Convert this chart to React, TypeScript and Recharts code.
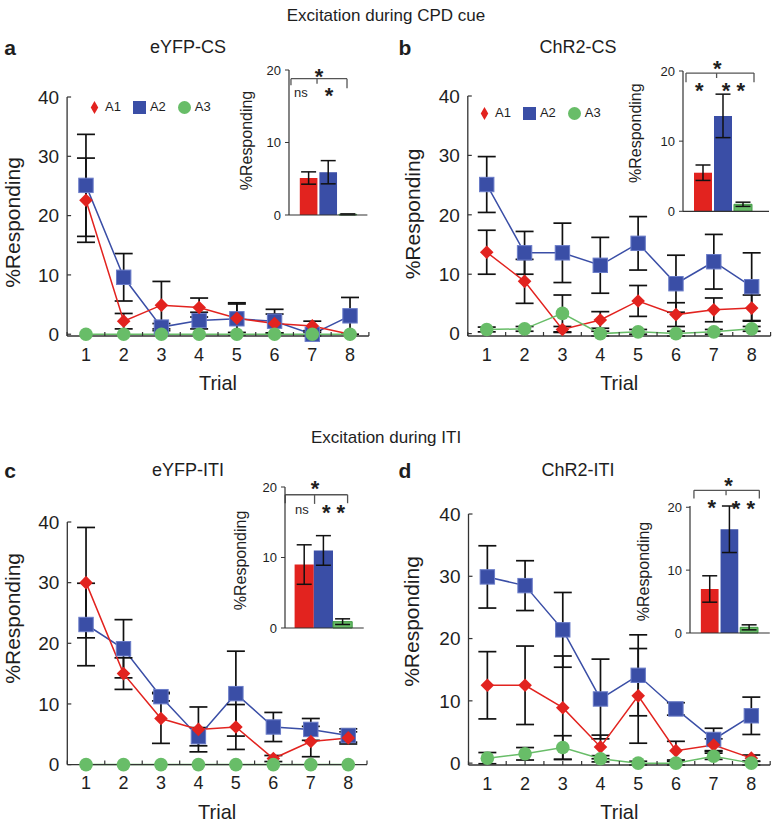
import React from 'react';
import {
  LineChart, Line, XAxis, YAxis, ErrorBar, BarChart, Bar, Cell,
  ReferenceLine, ReferenceDot, Legend,
} from 'recharts';

// ---------- shared categories / ticks ----------
const trials = [1, 2, 3, 4, 5, 6, 7, 8];
const xTicks = [0.5, 1, 1.5, 2, 2.5, 3, 3.5, 4, 4.5, 5, 5.5, 6, 6.5, 7, 7.5, 8, 8.5];
const yTicks = [0, 10, 20, 30, 40];
const insetTicks = [0, 10, 20];
const seriesNames = ['A1', 'A2', 'A3'];

// ---------- panel a: eYFP-CS ----------
const aA1 = [22.6, 2.2, 4.9, 4.5, 2.7, 1.8, 1.4, 0.0];
const aA1Err = [7.1, 1.3, 4.0, 1.6, 2.4, 1.6, 0.8, 0.0];
const aA2 = [25.1, 9.6, 1.2, 2.3, 2.6, 2.2, 0.0, 3.1];
const aA2Err = [8.6, 4.0, 0.6, 1.4, 2.7, 2.0, 0.3, 3.1];
const aA3 = [0, 0, 0, 0, 0, 0, 0, 0];
const aA3Err = [0, 0, 0, 0, 0, 0, 0, 0];
const aBar = [5.1, 5.9, 0.1];
const aBarErr = [0.85, 1.6, 0.05];

// ---------- panel b: ChR2-CS ----------
const bA1 = [13.7, 8.8, 0.7, 2.3, 5.5, 3.2, 4.0, 4.3];
const bA1Err = [3.7, 3.7, 0.5, 1.4, 2.6, 2.0, 2.0, 2.2];
const bA2 = [25.1, 13.6, 13.6, 11.5, 15.2, 8.4, 12.1, 7.9];
const bA2Err = [4.7, 3.6, 5.0, 4.7, 4.5, 4.8, 4.6, 5.7];
const bA3 = [0.7, 0.8, 3.4, 0.0, 0.3, 0.0, 0.3, 0.8];
const bA3Err = [0.4, 0.4, 3.1, 0.4, 0.4, 0.4, 0.4, 0.4];
const bBar = [5.5, 13.6, 1.0];
const bBarErr = [1.1, 3.1, 0.3];

// ---------- panel c: eYFP-ITI ----------
const cA1 = [30.0, 15.0, 7.6, 5.8, 6.2, 1.0, 3.8, 4.4];
const cA1Err = [9.1, 2.6, 4.1, 3.7, 3.7, 0.5, 2.5, 1.0];
const cA2 = [23.1, 19.1, 11.2, 4.6, 11.7, 6.2, 5.8, 4.8];
const cA2Err = [6.8, 4.8, 0.7, 1.5, 7.0, 2.4, 1.8, 1.1];
const cA3 = [0, 0, 0, 0, 0, 0, 0, 0];
const cA3Err = [0, 0, 0, 0, 0, 0, 0, 0];
const cBar = [9.0, 11.0, 0.9];
const cBarErr = [2.8, 2.1, 0.4];

// ---------- panel d: ChR2-ITI ----------
const dA1 = [12.5, 12.5, 8.9, 2.6, 10.8, 2.0, 2.9, 0.8];
const dA1Err = [5.4, 6.3, 8.3, 1.9, 7.6, 1.5, 1.0, 0.5];
const dA2 = [29.9, 28.5, 21.4, 10.3, 14.1, 8.7, 3.8, 7.6];
const dA2Err = [5.0, 4.0, 6.0, 6.4, 6.5, 1.0, 1.8, 3.0];
const dA3 = [0.8, 1.5, 2.5, 0.7, 0.0, 0.0, 1.1, 0.0];
const dA3Err = [0.9, 1.0, 1.9, 0.5, 0.3, 0.3, 0.5, 0.3];
const dBar = [7.0, 16.5, 0.9];
const dBarErr = [2.1, 3.7, 0.4];

// ---------- styles ----------
const RED = '#e2231f';
const BLUE = '#3a4ea6';
const GREEN = '#68bd68';
const AXIS = '#333';
const TEXT = '#1e1e1e';
const ERR = '#111';
const FONT = 'Arial, "Liberation Sans", Helvetica, sans-serif';
const barColors = [RED, BLUE, GREEN];
const barStrokes = ['none', 'none', '#3f9a42'];

// ---------- markers ----------
const diamondDot = (props: any) => {
  const { cx, cy, index } = props;
  if (cx == null || cy == null) return <g key={`d${index}`} />;
  const s = 6.8;
  return (
    <path key={`d${index}`} d={`M${cx},${cy - s}L${cx + s},${cy}L${cx},${cy + s}L${cx - s},${cy}Z`} fill={RED} />
  );
};
const squareDot = (props: any) => {
  const { cx, cy, index } = props;
  if (cx == null || cy == null) return <g key={`s${index}`} />;
  const s = 7.2;
  return <rect key={`s${index}`} x={cx - s} y={cy - s} width={2 * s} height={2 * s} fill={BLUE} stroke="#6a7cc8" strokeWidth={1} />;
};
const circleDot = (props: any) => {
  const { cx, cy, index } = props;
  if (cx == null || cy == null) return <g key={`c${index}`} />;
  return <circle key={`c${index}`} cx={cx} cy={cy} r={6.8} fill={GREEN} />;
};

type MainLayout = { L: number; x0: number; x1: number; y40: number; y0: number; labelX: number; labelDy: number; right: number };

function MainPanel(p: {
  layout: MainLayout; a1: number[]; a1e: number[]; a2: number[]; a2e: number[]; a3: number[]; a3e: number[];
  legend?: { left: number; top: number };
}) {
  const { L, x0, x1, y40, y0, labelX, labelDy, right } = p.layout;
  const T = y40 - 20;
  const W = x1 + right - L;
  const H = y0 + 60 - T;
  const data = trials.map((t, i) => ({
    trial: t, a1: p.a1[i], a1e: p.a1e[i], a2: p.a2[i], a2e: p.a2e[i], a3: p.a3[i], a3e: p.a3e[i],
  }));
  return (
    <div style={{ position: 'absolute', left: L, top: T }}>
      <LineChart width={W} height={H} data={data} margin={{ top: 20, right, bottom: 6, left: 0 }}>
        <XAxis
          dataKey="trial" type="number" domain={[0.5, 8.5]} ticks={xTicks} interval={0}
          tickFormatter={(v: number) => (Number.isInteger(v) ? String(v) : '')}
          tickSize={-4} tickMargin={16} height={54} stroke={AXIS}
          axisLine={{ stroke: AXIS, strokeWidth: 1.3 }} tickLine={{ stroke: AXIS, strokeWidth: 1.2 }}
          tick={{ fontSize: 18, fill: TEXT, fontFamily: FONT }}
          label={{ value: 'Trial', position: 'insideBottom', offset: 0, fontSize: 20, fill: TEXT, fontFamily: FONT }}
        />
        <YAxis
          type="number" domain={[0, 40]} ticks={yTicks} width={x0 - L} interval={0}
          tickSize={-4} tickMargin={12} stroke={AXIS}
          axisLine={{ stroke: AXIS, strokeWidth: 1.3 }} tickLine={{ stroke: AXIS, strokeWidth: 1.2 }}
          tick={{ fontSize: 19, fill: TEXT, fontFamily: FONT }}
          label={{
            value: '%Responding', angle: -90, position: 'insideLeft', offset: labelX - L, dy: labelDy,
            fontSize: 21, fill: TEXT, fontFamily: FONT, style: { textAnchor: 'middle' },
          }}
        />
        {p.legend && (
          <Legend
            verticalAlign="middle" align="center" layout="horizontal" iconSize={13}
            wrapperStyle={{ left: p.legend.left, top: p.legend.top, width: 'auto', fontSize: 13, lineHeight: '14px', fontFamily: FONT }}
            formatter={(value: any) => <span style={{ color: TEXT, marginRight: 2 }}>{value}</span>}
          />
        )}
        <Line dataKey="a2" name={seriesNames[1]} legendType="square" stroke={BLUE} strokeWidth={1.5} dot={squareDot} activeDot={false} isAnimationActive={false}>
          <ErrorBar dataKey="a2e" width={9} stroke={ERR} strokeWidth={1.7} direction="y" isAnimationActive={false} />
        </Line>
        <Line dataKey="a1" name={seriesNames[0]} legendType="diamond" stroke={RED} strokeWidth={1.5} dot={diamondDot} activeDot={false} isAnimationActive={false}>
          <ErrorBar dataKey="a1e" width={9} stroke={ERR} strokeWidth={1.7} direction="y" isAnimationActive={false} />
        </Line>
        <Line dataKey="a3" name={seriesNames[2]} legendType="circle" stroke={GREEN} strokeWidth={1.5} dot={circleDot} activeDot={false} isAnimationActive={false}>
          <ErrorBar dataKey="a3e" width={9} stroke={ERR} strokeWidth={1.7} direction="y" isAnimationActive={false} />
        </Line>
      </LineChart>
    </div>
  );
}

type InsetLayout = { x0: number; unit: number; D: number; y0: number; y20: number; labelX: number; labelDy: number };
type Seg = [number, number, number, number];
type Txt = [string, number, number];

function Inset(p: { layout: InsetLayout; vals: number[]; errs: number[]; segs: Seg[]; texts: Txt[] }) {
  const { x0, unit, D, y0, y20, labelX, labelDy } = p.layout;
  const yw = 58;
  const top = y20 - 40;
  const left = x0 - yw;
  const x1 = x0 + D * unit;
  const W = x1 - left + 4;
  const H = y0 - top + 14;
  const data = seriesNames.map((n, i) => ({ x: i + 1, name: n, v: p.vals[i], e: p.errs[i] }));
  return (
    <div style={{ position: 'absolute', left, top }}>
      <BarChart width={W} height={H} data={data} margin={{ top: 40, right: 4, bottom: 10, left: 0 }}>
        <XAxis dataKey="x" type="number" domain={[0, D]} tick={false} tickLine={false} height={4}
          axisLine={{ stroke: AXIS, strokeWidth: 1.2 }} />
        <YAxis type="number" domain={[0, 20]} ticks={insetTicks} width={yw} interval={0}
          tickSize={4} tickMargin={4} stroke={AXIS}
          axisLine={{ stroke: AXIS, strokeWidth: 1.2 }} tickLine={{ stroke: AXIS, strokeWidth: 1 }}
          tick={{ fontSize: 13, fill: TEXT, fontFamily: FONT }}
          label={{
            value: '%Responding', angle: -90, position: 'insideLeft', offset: labelX - left, dy: labelDy,
            fontSize: 16, fill: TEXT, fontFamily: FONT, style: { textAnchor: 'middle' },
          }}
        />
        <Bar dataKey="v" barSize={unit} isAnimationActive={false}>
          {data.map((d, i) => (
            <Cell key={d.name} fill={barColors[i]} stroke={barStrokes[i]} strokeWidth={1} />
          ))}
          <ErrorBar dataKey="e" width={7.5} stroke={ERR} strokeWidth={1.5} direction="y" isAnimationActive={false} />
        </Bar>
        {p.segs.map((s, i) => (
          <ReferenceLine key={`seg${i}`} segment={[{ x: s[0], y: s[1] }, { x: s[2], y: s[3] }]}
            stroke="#555" strokeWidth={1.3} ifOverflow="visible" />
        ))}
        {p.texts.map((t, i) => (
          <ReferenceDot key={`t${i}`} x={t[1]} y={t[2]} r={0} fill="none" stroke="none" ifOverflow="visible"
            label={{
              value: t[0], position: 'center', fill: TEXT, fontFamily: FONT,
              fontSize: t[0] === 'ns' ? 13 : 22, fontWeight: t[0] === 'ns' ? 'normal' : 'bold',
              dy: t[0] === 'ns' ? 0 : 5,
            }}
          />
        ))}
      </BarChart>
    </div>
  );
}

const Title = (p: { x: number; y: number; size: number; bold?: boolean; children: React.ReactNode }) => (
  <div style={{
    position: 'absolute', left: p.x, top: p.y, transform: 'translate(-50%, -50%)', whiteSpace: 'nowrap',
    fontSize: p.size, fontWeight: p.bold ? 'bold' : 'normal', color: TEXT, fontFamily: FONT, lineHeight: 1,
  }}>{p.children}</div>
);

export default function App() {
  return (
    <div style={{ position: 'absolute', left: 0, top: 0, width: 772, height: 823, overflow: 'hidden', background: '#fff', fontFamily: FONT }}>
      <Title x={386} y={15} size={17}>Excitation during CPD cue</Title>
      <Title x={10} y={47} size={21} bold>a</Title>
      <Title x={188} y={47} size={18}>eYFP-CS</Title>
      <Title x={405} y={47} size={21} bold>b</Title>
      <Title x={578} y={47} size={18}>ChR2-CS</Title>
      <Title x={386} y={437} size={17}>Excitation during ITI</Title>
      <Title x={10} y={470} size={21} bold>c</Title>
      <Title x={188} y={470} size={18}>eYFP-ITI</Title>
      <Title x={405} y={470} size={21} bold>d</Title>
      <Title x={578} y={470} size={18}>ChR2-ITI</Title>

      <MainPanel layout={{ L: 0, x0: 67.1, x1: 368.9, y40: 96.7, y0: 335.7, labelX: 13, labelDy: 6, right: 4 }}
        a1={aA1} a1e={aA1Err} a2={aA2} a2e={aA2Err} a3={aA3} a3e={aA3Err} legend={{ left: 88, top: 23 }} />
      <MainPanel layout={{ L: 392, x0: 467.8, x1: 770.6, y40: 95.7, y0: 335.7, labelX: 413, labelDy: -2, right: 1 }}
        a1={bA1} a1e={bA1Err} a2={bA2} a2e={bA2Err} a3={bA3} a3e={bA3Err} legend={{ left: 86, top: 30 }} />
      <MainPanel layout={{ L: 0, x0: 67.3, x1: 367.0, y40: 521.7, y0: 764.3, labelX: 13, labelDy: -25, right: 4 }}
        a1={cA1} a1e={cA1Err} a2={cA2} a2e={cA2Err} a3={cA3} a3e={cA3Err} />
      <MainPanel layout={{ L: 392, x0: 468.5, x1: 770.2, y40: 514, y0: 765, labelX: 412, labelDy: -18, right: 1 }}
        a1={dA1} a1e={dA1Err} a2={dA2} a2e={dA2Err} a3={dA3} a3e={dA3Err} />

      <Inset layout={{ x0: 289, unit: 19.6, D: 4, y0: 214.5, y20: 69.5, labelX: 246.5, labelDy: -2 }} vals={aBar} errs={aBarErr}
        segs={[[0.1, 18.8, 2.96, 18.8], [0.1, 18.8, 0.1, 17.9], [2.96, 18.8, 2.96, 17.5], [1.43, 18.8, 1.43, 18.1]]}
        texts={[['*', 1.53, 19.8], ['ns', 0.61, 16.9], ['*', 2.04, 17.2]]} />
      <Inset layout={{ x0: 683, unit: 20, D: 4.3, y0: 211, y20: 70.7, labelX: 635, labelDy: -8 }} vals={bBar} errs={bBarErr}
        segs={[[0.15, 19.7, 3.55, 19.7], [0.15, 19.7, 0.15, 18.4], [3.55, 19.7, 3.55, 18.4], [1.68, 19.7, 1.68, 19.0]]}
        texts={[['*', 1.72, 21.05], ['*', 0.82, 17.96], ['* *', 2.52, 17.96]]} />
      <Inset layout={{ x0: 284.8, unit: 19.2, D: 4.1, y0: 628.3, y20: 487.3, labelX: 240, labelDy: 3 }} vals={cBar} errs={cBarErr}
        segs={[[0.01, 18.9, 3.26, 18.9], [0.01, 18.9, 0.01, 17.7], [3.26, 18.9, 3.26, 17.7], [1.54, 18.9, 1.54, 17.6]]}
        texts={[['*', 1.57, 20.5], ['ns', 0.88, 16.8], ['* *', 2.53, 17.2]]} />
      <Inset layout={{ x0: 690, unit: 19.7, D: 4.05, y0: 632.5, y20: 505.5, labelX: 643.5, labelDy: 2 }} vals={dBar} errs={dBarErr}
        segs={[[0.2, 22.7, 3.52, 22.7], [0.2, 22.7, 0.2, 21.4], [3.52, 22.7, 3.52, 21.4], [1.83, 22.7, 1.83, 21.9]]}
        texts={[['*', 1.96, 24.3], ['*', 1.1, 20.75], ['* *', 2.71, 20.6]]} />
    </div>
  );
}
